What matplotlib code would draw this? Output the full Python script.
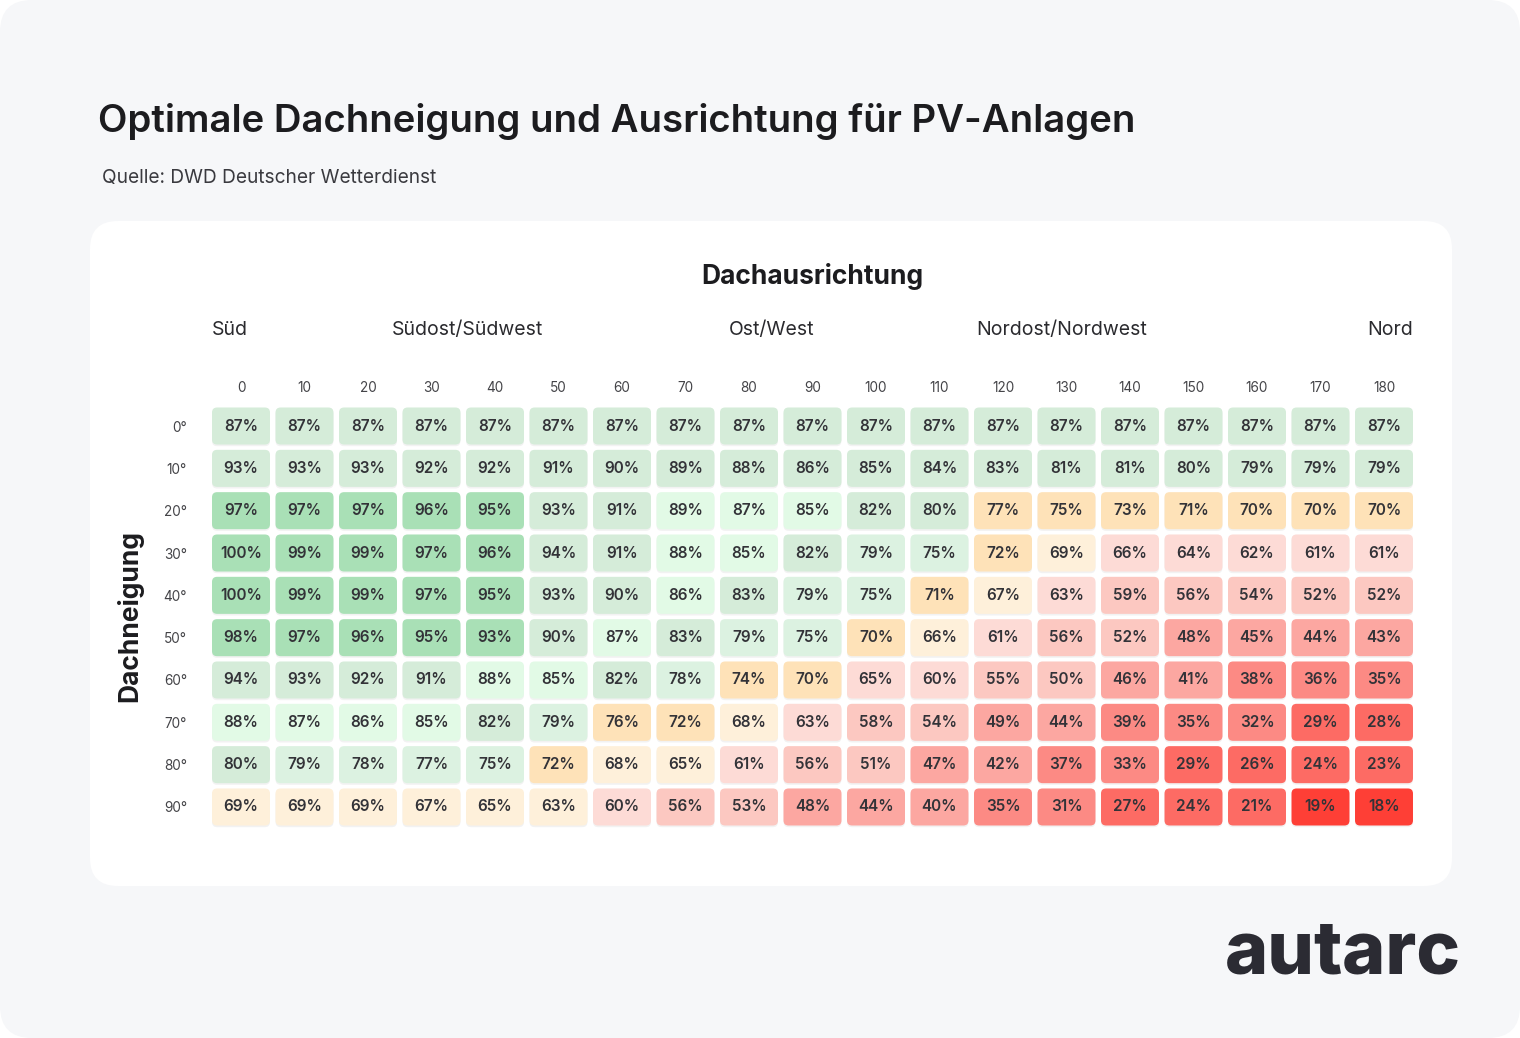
import matplotlib
matplotlib.use("Agg")
import matplotlib.pyplot as plt
from matplotlib.patches import FancyBboxPatch
import numpy as np

plt.rcParams["font.family"] = ["Inter", "DejaVu Sans"]

# data
azimuth = [0, 10, 20, 30, 40, 50, 60, 70, 80, 90, 100, 110, 120, 130, 140, 150, 160, 170, 180]
tilt = ["0°", "10°", "20°", "30°", "40°", "50°", "60°", "70°", "80°", "90°"]
yield_pct = [
    [87, 87, 87, 87, 87, 87, 87, 87, 87, 87, 87, 87, 87, 87, 87, 87, 87, 87, 87],
    [93, 93, 93, 92, 92, 91, 90, 89, 88, 86, 85, 84, 83, 81, 81, 80, 79, 79, 79],
    [97, 97, 97, 96, 95, 93, 91, 89, 87, 85, 82, 80, 77, 75, 73, 71, 70, 70, 70],
    [100, 99, 99, 97, 96, 94, 91, 88, 85, 82, 79, 75, 72, 69, 66, 64, 62, 61, 61],
    [100, 99, 99, 97, 95, 93, 90, 86, 83, 79, 75, 71, 67, 63, 59, 56, 54, 52, 52],
    [98, 97, 96, 95, 93, 90, 87, 83, 79, 75, 70, 66, 61, 56, 52, 48, 45, 44, 43],
    [94, 93, 92, 91, 88, 85, 82, 78, 74, 70, 65, 60, 55, 50, 46, 41, 38, 36, 35],
    [88, 87, 86, 85, 82, 79, 76, 72, 68, 63, 58, 54, 49, 44, 39, 35, 32, 29, 28],
    [80, 79, 78, 77, 75, 72, 68, 65, 61, 56, 51, 47, 42, 37, 33, 29, 26, 24, 23],
    [69, 69, 69, 67, 65, 63, 60, 56, 53, 48, 44, 40, 35, 31, 27, 24, 21, 19, 18],
]
# colour class of each cell as shown in the source
rating = [
    "bbbbbbbbbbbbbbbbbbb",
    "bbbbbbbbbbbbbbbbbbb",
    "aaaaabbdddbbooooooo",
    "aaaaabbddbccoeppppp",
    "aaaaabbdbccoepqqqqq",
    "aaaaabdbccoepqqrrrr",
    "bbbbddbcooppqqrrsss",
    "ddddbcooepqqrrssstt",
    "bccccoeepqqrrsstttt",
    "eeeeeepqqrrrsstttuu",
]
directions = ["Süd", "Südost/Südwest", "Ost/West", "Nordost/Nordwest", "Nord"]
direction_pos = [-0.17, 3.57, 8.36, 12.93, 18.09]

palette = {
    "a": "#a9e0b6", "b": "#d5ecd9", "c": "#dcf2e1", "d": "#e2fae6",
    "o": "#fee2b8", "e": "#fef0da", "p": "#fddbd6", "q": "#fcc8c1",
    "r": "#fca7a1", "s": "#fc8a84", "t": "#fd6b64", "u": "#fe3f36",
}

W, H = 1520, 1038
fig = plt.figure(figsize=(W / 100, H / 100), dpi=100)
fig.patch.set_facecolor("white")

# background / decoration layer in pixel coords
bg = fig.add_axes([0, 0, 1, 1])
bg.set_xlim(0, W)
bg.set_ylim(H, 0)
bg.axis("off")
bg.add_patch(FancyBboxPatch((0, 0), W, H, boxstyle="round,pad=0,rounding_size=32",
                            fc="#f6f7f9", ec="none"))
bg.add_patch(FancyBboxPatch((90, 221), 1362, 665, boxstyle="round,pad=0,rounding_size=28",
                            fc="white", ec="none"))
bg.text(98, 122, "Optimale Dachneigung und Ausrichtung für PV-Anlagen", fontsize=27.6,
        fontweight="semibold", color="#1c1c1f", va="center", ha="left")
bg.text(102, 178, "Quelle: DWD Deutscher Wetterdienst", fontsize=13.75, color="#3a3a3f",
        va="center", ha="left")
bg.text(812, 276, "Dachausrichtung", fontsize=19, fontweight="bold", color="#1c1c1f",
        ha="center", va="center")
bg.text(130, 616, "Dachneigung", fontsize=19, fontweight="bold", color="#1c1c1f",
        ha="center", va="center", rotation=90)
bg.text(1461, 973, "autarc", fontsize=53, fontweight="heavy", color="#2b2b33",
        ha="right", va="baseline")

# heatmap
ax = fig.add_axes([209.25 / W, 1 - 828.15 / H, 1206.5 / W, 423.3 / H])
ax.patch.set_alpha(0)
nrows, ncols = len(tilt), len(azimuth)
ax.set_xlim(-0.5, ncols - 0.5)
ax.set_ylim(nrows - 0.5, -0.5)
for s in ax.spines.values():
    s.set_visible(False)

cw, ch = 0.913, 0.875
asp = (1206.5 / ncols) / (423.3 / nrows)
for i in range(nrows):
    for j in range(ncols):
        col = palette[rating[i][j]]
        ax.add_patch(FancyBboxPatch((j - cw / 2, i - ch / 2 + 0.04), cw, ch,
                                    boxstyle="round,pad=0,rounding_size=0.08",
                                    mutation_aspect=asp, fc="black", alpha=0.05, ec="none"))
        ax.add_patch(FancyBboxPatch((j - cw / 2, i - ch / 2), cw, ch,
                                    boxstyle="round,pad=0,rounding_size=0.08",
                                    mutation_aspect=asp, fc=col, ec="none"))
        ax.text(j, i, f"{yield_pct[i][j]}%", ha="center", va="center", fontsize=11,
                fontweight="semibold", color="#333338")

ax.xaxis.tick_top()
ax.set_xticks(range(ncols), [str(a) for a in azimuth])
ax.set_yticks(range(nrows), tilt)
ax.tick_params(length=0, labelsize=9.8, colors="#444448")
ax.tick_params(axis="x", pad=7)
ax.tick_params(axis="y", pad=16)

for name, x in zip(directions, direction_pos):
    ax.text(x, -2.28, name, ha="center", va="center", fontsize=14, color="#2a2a2e",
            clip_on=False)

fig.savefig("out.png", dpi=100, facecolor=fig.get_facecolor())
